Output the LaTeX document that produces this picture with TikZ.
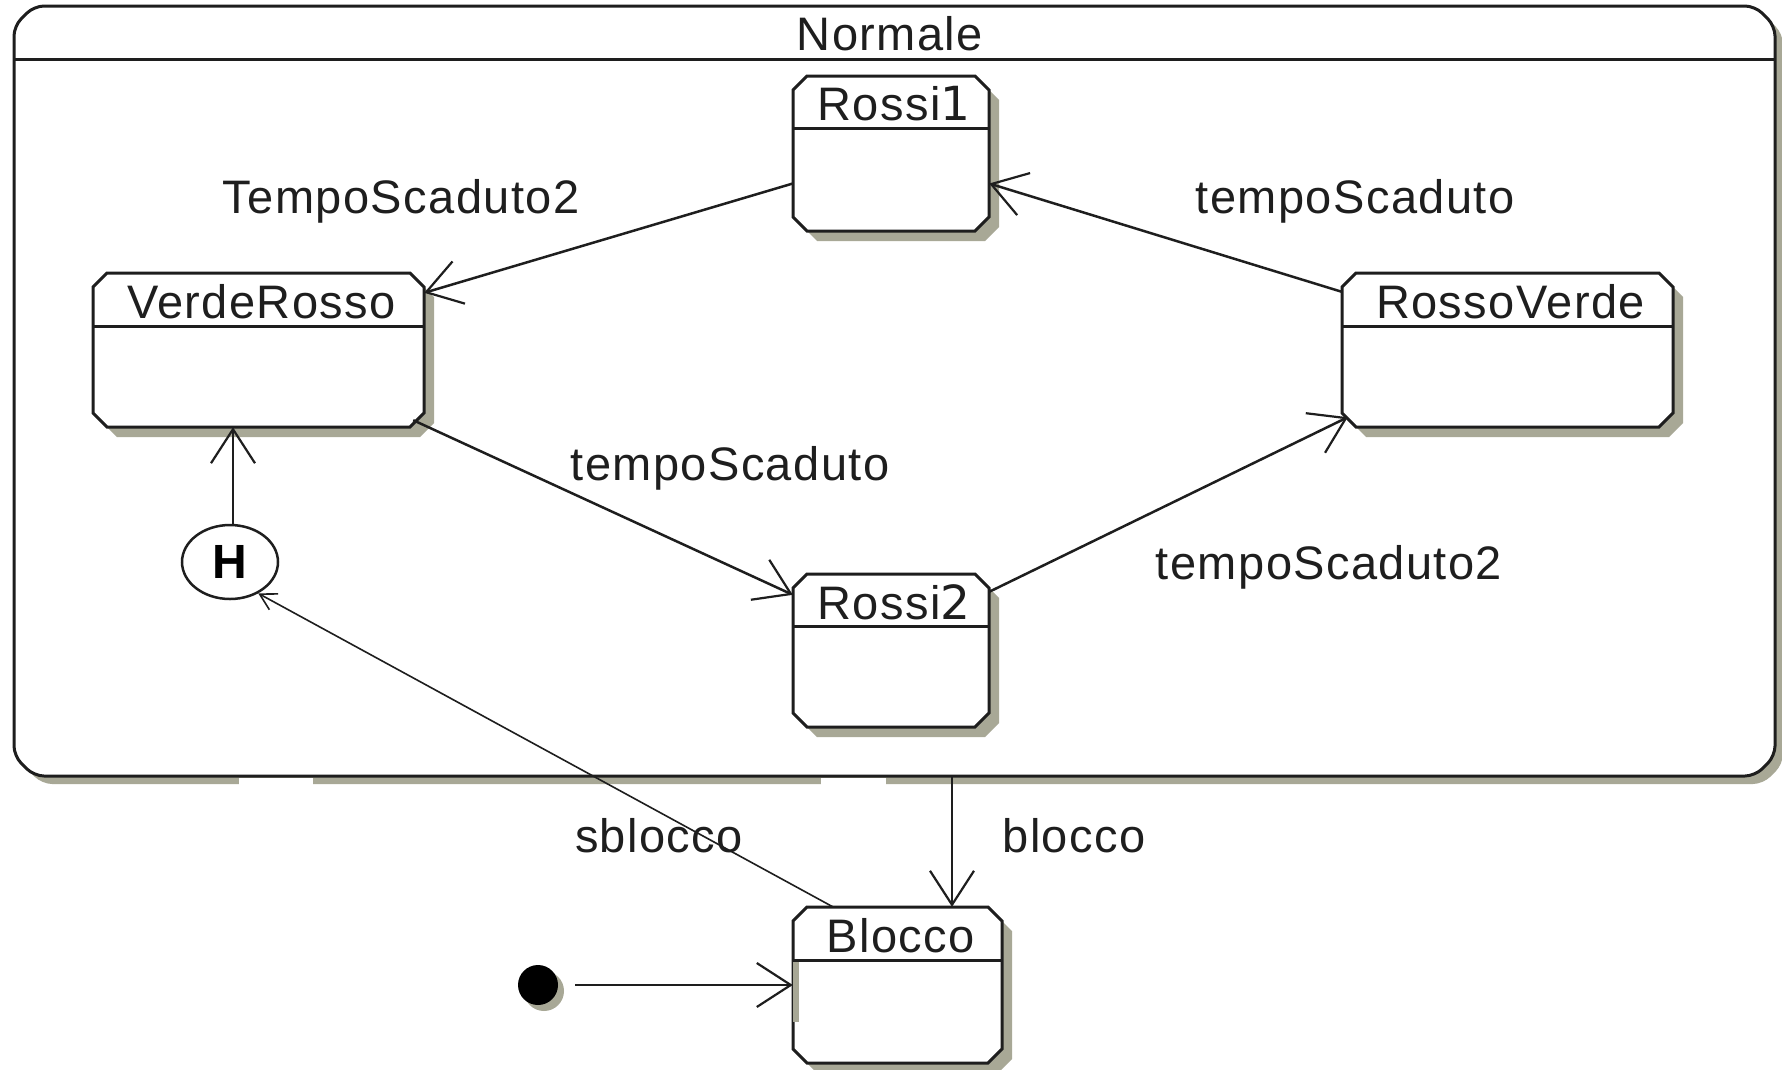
\documentclass[tikz,border=0pt]{standalone}
\usepackage{fontspec}
\setmainfont[LetterSpace=3]{Liberation Sans}
\newfontfamily\dvfont{DejaVu Sans}
\usetikzlibrary{arrows.meta,calc,shapes.geometric}
\definecolor{shadowc}{RGB}{168,168,150}
\definecolor{ink}{RGB}{30,30,30}
\tikzset{
  lbl/.style={font=\fontsize{47}{50}\selectfont, inner sep=0pt, text=ink},
  boxnode/.style={rectangle, draw=none, inner sep=0pt},
  border/.style={draw=ink, line width=3pt, fill=white},
  trans/.style={draw=ink, line width=2.5pt, -{Straight Barb[length=34pt,width=44pt,line width=2.2pt]}},
  thintrans/.style={draw=ink, line width=1.6pt, -{Straight Barb[length=16pt,width=18pt,line width=1.6pt]}},
}
\newcommand\champfill[5]{\path[#1] (#2+14,#3) -- (#4-14,#3) -- (#4,#3+14) -- (#4,#5-14) -- (#4-14,#5) -- (#2+14,#5) -- (#2,#5-14) -- (#2,#3+14) -- cycle;}
\newcommand\umlstate[7]{%
  \champfill{fill=shadowc}{#2+10}{#3+10}{#4+10}{#5+10}
  \champfill{border}{#2}{#3}{#4}{#5}
  \draw[ink, line width=3pt] (#2,#6) -- (#4,#6);
  \node[boxnode, minimum width={#4pt-#2pt}, minimum height={#5pt-#3pt}] (#1) at ({(#2+#4)/2},{(#3+#5)/2}) {};
  \node[lbl] (#1-t) at ({(#2+#4)/2+3},{(#3+#6)/2+2}) {#7};
}
\begin{document}
\begin{tikzpicture}[x=1pt,y=-1pt]
\useasboundingbox (0,0) rectangle (1782,1069);
\fill[white] (0,0) rectangle (1782,1069);
% container Normale
\fill[shadowc, rounded corners=10pt] (22,34) -- (42,14) -- (1763,14) -- (1783,34) -- (1783,764) -- (1763,784) -- (42,784) -- (22,764) -- cycle;
\fill[white] (239,778) rectangle (313,792);
\fill[white] (821,778) rectangle (886,792);
\path[border, rounded corners=10pt] (14,26) -- (34,6) -- (1755,6) -- (1775,26) -- (1775,756) -- (1755,776) -- (34,776) -- (14,756) -- cycle;
\node[boxnode, minimum width=1761pt, minimum height=770pt] (nm) at (894.5,391) {};
\draw[ink, line width=3pt] (14,59) -- (1775,59);
\node[lbl] (nm-t) at (890,34) {Normale};
% states
\umlstate{r1}{793}{76}{989}{231}{128}{Rossi{\dvfont 1}}
\umlstate{vr}{93}{273}{424}{427}{326}{VerdeRosso}
\umlstate{rv}{1342}{273}{1673}{427}{326}{RossoVerde}
\umlstate{r2}{793}{574}{989}{727}{626}{Rossi{\dvfont 2}}
\umlstate{bl}{793}{907}{1002}{1063}{960}{Blocco}
\draw[shadowc, line width=6pt] (796,962) -- (796,1022);
% history and initial
\node[draw=ink, line width=2.5pt, ellipse, minimum width=96pt, minimum height=74pt, fill=white, inner sep=0pt, font=\bfseries\fontsize{48}{50}\selectfont] (h) at (230,562) {H};
\fill[shadowc] (544,991) circle (20);
\node[circle, fill=black, minimum size=40pt, inner sep=0pt] (init) at (538,985) {};
% transitions
\draw[trans] ([yshift=-30pt]r1.west) -- ([yshift=-20pt]vr.north east);
\draw[trans] ([yshift=-19pt]rv.north west) -- ([yshift=-30pt]r1.east);
\draw[trans] ([xshift=-11pt,yshift=7pt]vr.south east) -- ([yshift=-21pt]r2.north west);
\draw[trans] ([yshift=-18pt]r2.north east) -- ([xshift=6pt,yshift=10pt]rv.south west);
\coordinate (hs) at ([xshift=3pt]h.north);
\draw[trans] (hs) -- (hs |- vr.south);
\draw[thintrans] ([xshift=40pt]bl.north west) -- (h.-48);
\coordinate (bk) at ([xshift=54.5pt]bl.north);
\draw[trans] (bk |- nm.south) -- (bk);
\draw[trans] ([xshift=17pt]init.east) -- (init -| bl.west);
% labels
\node[lbl] (l1) at (401,201) {TempoScaduto2};
\node[lbl] (l2) at (1355,201) {tempoScaduto};
\node[lbl] (l3) at (730,468) {tempoScaduto};
\node[lbl] (l4) at (1329,567) {tempoScaduto2};
\node[lbl] (l5) at (659,836) {sblocco};
\node[lbl] (l6) at (1074,836) {blocco};
\end{tikzpicture}
\end{document}
